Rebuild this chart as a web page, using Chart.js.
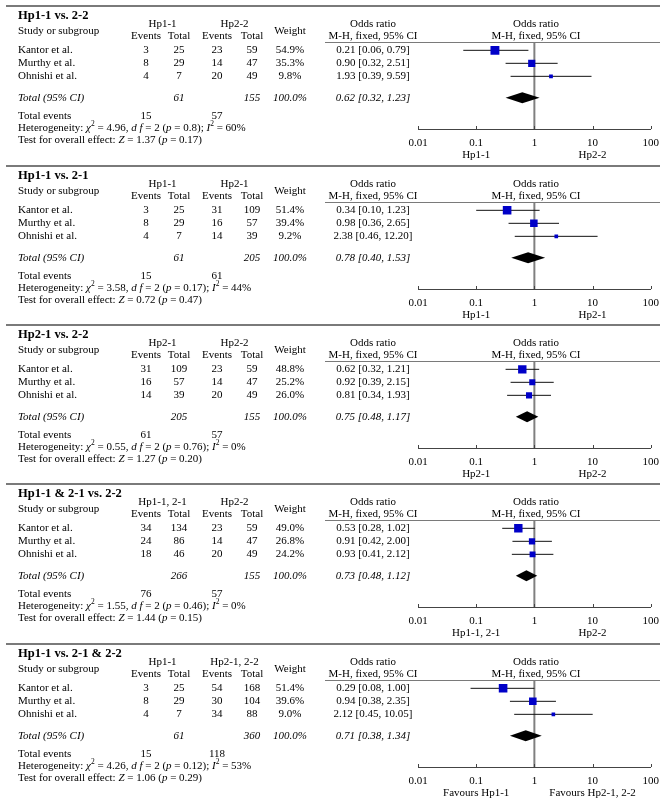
<!DOCTYPE html>
<html>
<head>
<meta charset="utf-8">
<script src="https://cdn.jsdelivr.net/npm/chart.js@4"></script>
<style>
  body { margin: 0; background: #fff; }
  #wrap { position: relative; width: 667px; height: 805px; }
  #wrap canvas { position: absolute; left: 0; }
</style>
</head>
<body>
<div id="wrap"></div>
<script>
// data
const panelTitles = ['Hp1-1 vs. 2-2', 'Hp1-1 vs. 2-1', 'Hp2-1 vs. 2-2', 'Hp1-1 & 2-1 vs. 2-2', 'Hp1-1 vs. 2-1 & 2-2']
const groupA = ['Hp1-1', 'Hp1-1', 'Hp2-1', 'Hp1-1, 2-1', 'Hp1-1']
const groupB = ['Hp2-2', 'Hp2-1', 'Hp2-2', 'Hp2-2', 'Hp2-1, 2-2']
const studies = ['Kantor et al.', 'Murthy et al.', 'Ohnishi et al.']

const eventsA = [[3, 8, 4], [3, 8, 4], [31, 16, 14], [34, 24, 18], [3, 8, 4]]
const totalA  = [[25, 29, 7], [25, 29, 7], [109, 57, 39], [134, 86, 46], [25, 29, 7]]
const eventsB = [[23, 14, 20], [31, 16, 14], [23, 14, 20], [23, 14, 20], [54, 30, 34]]
const totalB  = [[59, 47, 49], [109, 57, 39], [59, 47, 49], [59, 47, 49], [168, 104, 88]]
const weights = [[54.9, 35.3, 9.8], [51.4, 39.4, 9.2], [48.8, 25.2, 26.0], [49.0, 26.8, 24.2], [51.4, 39.6, 9.0]]

const oddsRatio = [[0.21, 0.90, 1.93], [0.34, 0.98, 2.38], [0.62, 0.92, 0.81], [0.53, 0.91, 0.93], [0.29, 0.94, 2.12]]
const ciLow  = [[0.06, 0.32, 0.39], [0.10, 0.36, 0.46], [0.32, 0.39, 0.34], [0.28, 0.42, 0.41], [0.08, 0.38, 0.45]]
const ciHigh = [[0.79, 2.51, 9.59], [1.23, 2.65, 12.20], [1.21, 2.15, 1.93], [1.02, 2.00, 2.12], [1.00, 2.35, 10.05]]

const totalOR   = [0.62, 0.78, 0.75, 0.73, 0.71]
const totalLow  = [0.32, 0.40, 0.48, 0.48, 0.38]
const totalHigh = [1.23, 1.53, 1.17, 1.12, 1.34]
const sumTotalA  = [61, 61, 205, 266, 61]
const sumTotalB  = [155, 205, 155, 155, 360]
const sumEventsA = [15, 15, 61, 76, 15]
const sumEventsB = [57, 61, 57, 57, 118]

const chi2 = ['4.96', '3.58', '0.55', '1.55', '4.26']
const hetP = ['0.8', '0.17', '0.76', '0.46', '0.12']
const iSq  = ['60', '44', '0', '0', '53']
const zVal = ['1.37', '0.72', '1.27', '1.44', '1.06']
const zP   = ['0.17', '0.47', '0.20', '0.15', '0.29']

const axisTicks = [0.01, 0.1, 1, 10, 100]
const axisTickLabels = ['0.01', '0.1', '1', '10', '100']
const favourLeft  = ['Hp1-1', 'Hp1-1', 'Hp2-1', 'Hp1-1, 2-1', 'Favours Hp1-1']
const favourRight = ['Hp2-2', 'Hp2-1', 'Hp2-2', 'Hp2-2', 'Favours Hp2-1, 2-2']

// layout
const FONT = '"Liberation Serif", "Times New Roman", serif'
const panelTop = [0, 160, 319, 478, 638]
const panelHeight = [160, 160, 160, 160, 167]
const TOTAL_ROW = 4.65
const col = { name: 18, evA: 146, totA: 179, evB: 217, totB: 252, weight: 290, or: 373, plot: 536 }

const txt = (ctx, s, x, y, align, style, size) => {
  ctx.font = `${style || ''} ${size || 11}px ${FONT}`
  ctx.textAlign = align || 'left'
  ctx.textBaseline = 'middle'
  ctx.fillText(s, x, y)
}

// segments: [text, 'i' italic | 's' superscript]
const rich = (ctx, segs, x, y) => {
  ctx.textAlign = 'left'
  ctx.textBaseline = 'middle'
  for (const [t, st] of segs) {
    if (st === 's') {
      ctx.font = `7.5px ${FONT}`
      ctx.fillText(t, x, y - 4)
    } else {
      ctx.font = `${st === 'i' ? 'italic ' : ''}11px ${FONT}`
      ctx.fillText(t, x, y)
    }
    x += ctx.measureText(t).width
  }
}

const hline = (ctx, x1, x2, y) => {
  ctx.beginPath()
  ctx.moveTo(x1, y)
  ctx.lineTo(x2, y)
  ctx.stroke()
}

const forestPlugin = {
  id: 'forest',
  beforeDatasetsDraw(chart, args, opts) {
    const ctx = chart.ctx
    const xs = chart.scales.x
    const area = chart.chartArea
    ctx.save()
    // line of no effect
    const x1 = xs.getPixelForValue(1)
    ctx.strokeStyle = '#808080'
    ctx.lineWidth = 2
    ctx.beginPath()
    ctx.moveTo(x1, area.top)
    ctx.lineTo(x1, area.bottom)
    ctx.stroke()
    ctx.restore()
  },
  afterDatasetsDraw(chart, args, opts) {
    const p = opts.panel
    const ctx = chart.ctx
    const xs = chart.scales.x
    const ys = chart.scales.y
    ctx.save()
    // pooled diamond
    const y = ys.getPixelForValue(TOTAL_ROW)
    ctx.fillStyle = '#000'
    ctx.beginPath()
    ctx.moveTo(xs.getPixelForValue(totalLow[p]), y)
    ctx.lineTo(xs.getPixelForValue(totalOR[p]), y - 5.5)
    ctx.lineTo(xs.getPixelForValue(totalHigh[p]), y)
    ctx.lineTo(xs.getPixelForValue(totalOR[p]), y + 5.5)
    ctx.closePath()
    ctx.fill()
    ctx.restore()
  },
  afterDraw(chart, args, opts) {
    const p = opts.panel
    const ctx = chart.ctx
    const xs = chart.scales.x
    const ys = chart.scales.y
    const area = chart.chartArea
    ctx.save()

    // rules
    ctx.strokeStyle = '#7a7a7a'
    ctx.lineWidth = 2
    hline(ctx, 6, 660, 6)
    ctx.lineWidth = 1
    hline(ctx, 325, 660, 42.5)

    // upward tick marks on axis
    ctx.strokeStyle = '#444'
    for (const v of axisTicks) {
      const x = Math.round(xs.getPixelForValue(v)) + 0.5
      ctx.beginPath()
      ctx.moveTo(x, area.bottom)
      ctx.lineTo(x, area.bottom - 3)
      ctx.stroke()
    }

    ctx.fillStyle = '#000'
    // header
    txt(ctx, panelTitles[p], col.name, 16, 'left', 'bold', 12.5)
    txt(ctx, 'Study or subgroup', col.name, 31)
    txt(ctx, groupA[p], (col.evA + col.totA) / 2, 24, 'center')
    txt(ctx, groupB[p], (col.evB + col.totB) / 2, 24, 'center')
    txt(ctx, 'Events', col.evA, 36, 'center')
    txt(ctx, 'Total', col.totA, 36, 'center')
    txt(ctx, 'Events', col.evB, 36, 'center')
    txt(ctx, 'Total', col.totB, 36, 'center')
    txt(ctx, 'Weight', col.weight, 31, 'center')
    txt(ctx, 'Odds ratio', col.or, 24, 'center')
    txt(ctx, 'M-H, fixed, 95% CI', col.or, 36, 'center')
    txt(ctx, 'Odds ratio', col.plot, 24, 'center')
    txt(ctx, 'M-H, fixed, 95% CI', col.plot, 36, 'center')

    // study rows
    studies.forEach((s, j) => {
      const y = ys.getPixelForValue(j + 1)
      txt(ctx, s, col.name, y)
      txt(ctx, String(eventsA[p][j]), col.evA, y, 'center')
      txt(ctx, String(totalA[p][j]), col.totA, y, 'center')
      txt(ctx, String(eventsB[p][j]), col.evB, y, 'center')
      txt(ctx, String(totalB[p][j]), col.totB, y, 'center')
      txt(ctx, weights[p][j].toFixed(1) + '%', col.weight, y, 'center')
      txt(ctx, `${oddsRatio[p][j].toFixed(2)} [${ciLow[p][j].toFixed(2)}, ${ciHigh[p][j].toFixed(2)}]`, col.or, y, 'center')
    })

    // total row
    const yt = ys.getPixelForValue(TOTAL_ROW)
    txt(ctx, 'Total (95% CI)', col.name, yt, 'left', 'italic')
    txt(ctx, String(sumTotalA[p]), col.totA, yt, 'center', 'italic')
    txt(ctx, String(sumTotalB[p]), col.totB, yt, 'center', 'italic')
    txt(ctx, '100.0%', col.weight, yt, 'center', 'italic')
    txt(ctx, `${totalOR[p].toFixed(2)} [${totalLow[p].toFixed(2)}, ${totalHigh[p].toFixed(2)}]`, col.or, yt, 'center', 'italic')

    // footer
    txt(ctx, 'Total events', col.name, 116)
    txt(ctx, String(sumEventsA[p]), col.evA, 116, 'center')
    txt(ctx, String(sumEventsB[p]), col.evB, 116, 'center')
    rich(ctx, [['Heterogeneity: '], ['χ', 'i'], ['2', 's'], [` = ${chi2[p]}, `], ['d f', 'i'], [' = 2 ('], ['p', 'i'],
      [` = ${hetP[p]}); `], ['I', 'i'], ['2', 's'], [` = ${iSq[p]}%`]], col.name, 128)
    rich(ctx, [['Test for overall effect: '], ['Z', 'i'], [` = ${zVal[p]} (`], ['p', 'i'], [` = ${zP[p]})`]], col.name, 140)

    // favours labels under the axis
    txt(ctx, favourLeft[p], xs.getPixelForValue(0.1), 155.5, 'center')
    txt(ctx, favourRight[p], xs.getPixelForValue(10), 155.5, 'center')

    ctx.restore()
  }
}

const makePanel = (p) => {
  const canvas = document.createElement('canvas')
  canvas.width = 667
  canvas.height = panelHeight[p]
  canvas.style.top = panelTop[p] + 'px'
  document.getElementById('wrap').appendChild(canvas)

  const datasets = [{
    type: 'scatter',
    data: studies.map((s, j) => ({ x: oddsRatio[p][j], y: j + 1 })),
    pointStyle: 'rect',
    pointRadius: weights[p].map(w => 1.2 * Math.sqrt(w) / Math.SQRT2),
    backgroundColor: '#0000c8',
    borderWidth: 0,
    order: 0
  }]
  studies.forEach((s, j) => {
    datasets.push({
      type: 'line',
      data: [{ x: ciLow[p][j], y: j + 1 }, { x: ciHigh[p][j], y: j + 1 }],
      borderColor: '#111',
      borderWidth: 1,
      pointRadius: 0,
      order: 1
    })
  })

  new Chart(canvas, {
    type: 'scatter',
    data: { datasets: datasets },
    options: {
      responsive: false,
      animation: false,
      events: [],
      layout: { padding: { left: 418, right: 16, top: 42, bottom: panelHeight[p] - 160 } },
      scales: {
        x: {
          type: 'logarithmic',
          min: 0.01,
          max: 100,
          afterBuildTicks: s => { s.ticks = axisTicks.map(v => ({ value: v })) },
          afterFit: s => { s.height = 31 },
          grid: { display: false, drawTicks: false },
          border: { display: true, color: '#444', width: 1 },
          ticks: {
            padding: 8,
            color: '#000',
            maxRotation: 0,
            autoSkip: false,
            font: { family: FONT, size: 11 },
            callback: (v, i) => axisTickLabels[i]
          }
        },
        y: { type: 'linear', min: 0.36, max: 7.05, reverse: true, display: false }
      },
      plugins: {
        legend: { display: false },
        tooltip: { enabled: false },
        forest: { panel: p }
      }
    },
    plugins: [forestPlugin]
  })
}

panelTitles.forEach((t, p) => makePanel(p))
</script>
</body>
</html>
